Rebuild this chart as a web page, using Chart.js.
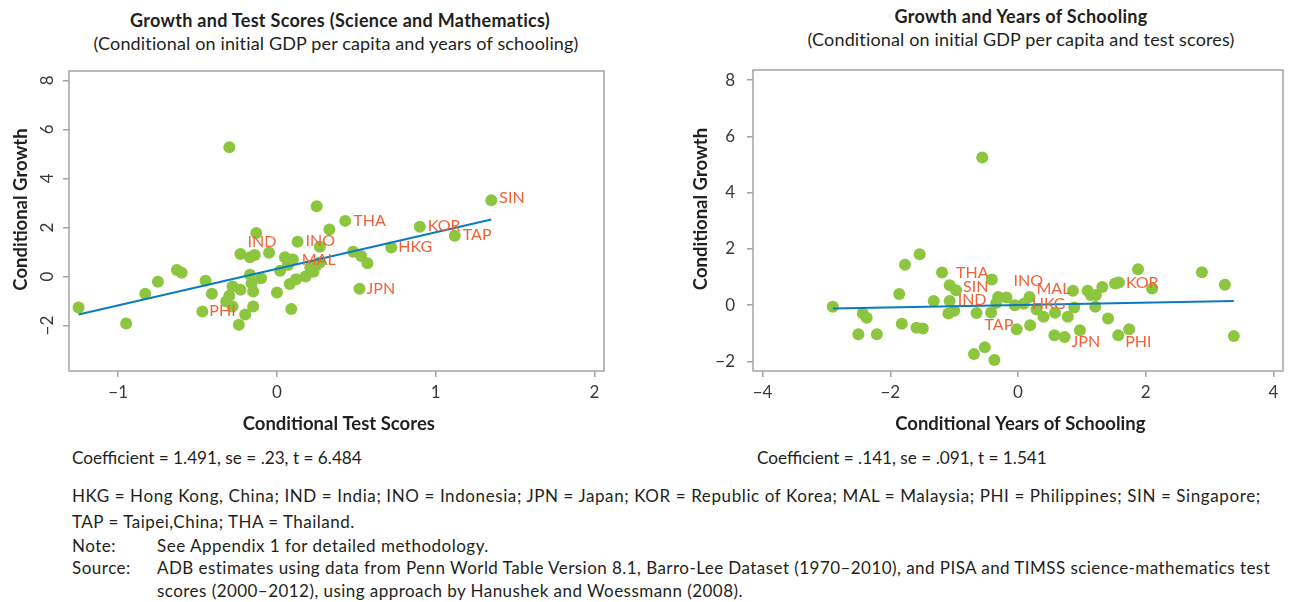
<!DOCTYPE html>
<html>
<head>
<meta charset="utf-8">
<script src="https://cdn.jsdelivr.net/npm/chart.js@4.4.1/dist/chart.umd.min.js"></script>
<style>
  html, body { margin: 0; padding: 0; background: #fff; }
  body { width: 1289px; height: 602px; position: relative; overflow: hidden; font-family: Lato, "Open Sans", sans-serif; color: #231f20; }
  canvas { position: absolute; top: 0; }
  #c1 { left: 0; }
  #c2 { left: 680px; }
  .t { position: absolute; white-space: nowrap; line-height: 20px; }
  .title { font-weight: bold; font-size: 18px; letter-spacing: 0.3px; transform: translateX(-50%); }
  .sub { font-size: 18px; letter-spacing: 0.15px; transform: translateX(-50%); }
  .coef { font-size: 17.2px; }
  .note { font-size: 17px; letter-spacing: 0.5px; }
</style>
</head>
<body>
<div class="t title" style="left:340px; top:10px;">Growth and Test Scores (Science and Mathematics)</div>
<div class="t sub" style="left:336px; top:33px;">(Conditional on initial GDP per capita and years of schooling)</div>
<div class="t title" style="left:1021px; top:6px;">Growth and Years of Schooling</div>
<div class="t sub" style="left:1021px; top:29px;">(Conditional on initial GDP per capita and test scores)</div>

<canvas id="c1" width="640" height="440"></canvas>
<canvas id="c2" width="609" height="440"></canvas>

<div class="t coef" style="left:72px; top:448px;">Coefficient = 1.491, se = .23, t = 6.484</div>
<div class="t coef" style="left:757px; top:448px;">Coefficient = .141, se = .091, t = 1.541</div>

<div class="t note" style="left:72px; top:486px; letter-spacing:0.6px;">HKG = Hong Kong, China; IND = India; INO = Indonesia; JPN = Japan; KOR = Republic of Korea; MAL = Malaysia; PHI = Philippines; SIN = Singapore;</div>
<div class="t note" style="left:72px; top:512px;">TAP = Taipei,China; THA = Thailand.</div>
<div class="t note" style="left:72px; top:536px;">Note:</div>
<div class="t note" style="left:157px; top:536px;">See Appendix 1 for detailed methodology.</div>
<div class="t note" style="left:72px; top:558px;">Source:</div>
<div class="t note" style="left:157px; top:558px; letter-spacing:0.45px;">ADB estimates using data from Penn World Table Version 8.1, Barro-Lee Dataset (1970–2010), and PISA and TIMSS science-mathematics test</div>
<div class="t note" style="left:157px; top:581px; letter-spacing:0.45px;">scores (2000–2012), using approach by Hanushek and Woessmann (2008).</div>

<script>
// ---------- DATA ----------
// Left panel: conditional test scores vs conditional growth
const testScoreX = [-1.25,-0.95,-0.83,-0.75,-0.63,-0.60,-0.30,-0.45,-0.41,-0.47,
  -0.28,-0.23,-0.30,-0.32,-0.28,-0.20,-0.24,-0.15,-0.23,
  -0.17,-0.14,-0.13,-0.05,-0.17,-0.16,-0.15,-0.10,0.00,0.02,0.05,0.10,
  0.07,0.09,0.08,0.12,0.13,
  0.25,0.33,0.27,0.18,0.23,0.21,0.25,0.27,0.43,
  0.48,0.53,0.57,0.52,0.72,0.90,1.12,1.35];
const testGrowthY = [-1.26,-1.91,-0.70,-0.21,0.27,0.16,5.27,-0.17,-0.70,-1.42,
  -0.41,-0.54,-0.78,-1.02,-1.22,-1.55,-1.96,-1.22,0.92,
  0.79,0.88,1.78,0.97,0.07,-0.27,-0.61,-0.07,-0.65,0.24,0.79,0.70,
  0.47,-1.32,-0.30,-0.11,1.42,
  2.87,1.92,1.22,0.00,0.20,0.38,0.47,0.57,2.27,
  1.01,0.84,0.54,-0.50,1.18,2.03,1.66,3.11];
const testCodes = ["","","","","","","","","","PHI",
  "","","","","","","","","IND",
  "","","","","","","","","","","","MAL",
  "","","","","INO",
  "","","","","","","","","THA",
  "","","","JPN","HKG","KOR","TAP","SIN"];
const testFitX = [-1.25, 1.35];
const testFitY = [-1.55, 2.33];

// Right panel: conditional years of schooling vs conditional growth
const schoolX = [-2.90,-2.43,-2.37,-2.50,-2.21,-1.86,-1.77,-1.54,-1.82,-1.59,-1.49,-1.19,
  -1.32,-1.07,-0.97,-1.07,
  -1.09,-1.00,-0.65,
  -0.56,-0.69,-0.52,-0.37,-0.41,-0.31,-0.18,
  -0.34,-0.05,0.09,0.18,
  0.29,0.40,0.58,0.78,0.88,0.86,1.09,1.14,1.22,1.32,1.21,1.41,0.19,-0.02,0.57,0.73,
  0.97,1.52,1.58,
  1.88,2.10,2.88,3.24,3.38,1.57,
  1.74,-0.42];
const schoolGrowthY = [-0.06,-0.30,-0.45,-1.03,-1.03,0.40,1.44,1.81,-0.66,-0.80,-0.83,1.16,
  0.15,0.71,0.53,0.15,
  -0.30,-0.20,-0.28,
  5.25,-1.74,-1.50,-1.95,0.91,0.29,0.27,
  0.08,0.00,0.05,0.29,
  -0.15,-0.41,-0.27,-0.41,-0.08,0.51,0.51,0.36,0.36,0.65,-0.06,-0.47,-0.71,-0.86,-1.07,-1.13,
  -0.89,0.77,0.81,
  1.28,0.59,1.17,0.73,-1.10,-1.07,
  -0.86,-0.26];
const schoolCodes = ["","","","","","","","","","","","THA",
  "","","SIN","IND",
  "","","TAP",
  "","","","","","","INO",
  "","","HKG","MAL",
  "","","","","","","","","","","","","","","","JPN",
  "","","KOR",
  "","","","","","PHI",
  "",""];
const schoolFitX = [-2.90, 3.38];
const schoolFitY = [-0.12, 0.15];

const yTicks = [-2, 0, 2, 4, 6, 8];
const testTicks = [-1, 0, 1, 2];
const schoolTicks = [-4, -2, 0, 2, 4];

// ---------- STYLE ----------
const GREEN = '#8cc63f', BLUE = '#0b7bbf', ORANGE = '#f0623a', AXIS = '#a3a3a3', TXT = '#3a3a3a';
const FONT = 'Lato, "Open Sans", sans-serif';
const labelOffsets = {
  c1: { SIN:[8,-2], THA:[8,0], KOR:[8,-1], TAP:[8,-1], HKG:[7,-1], JPN:[7,0], MAL:[9,0], INO:[8,-1], IND:[7,-12], PHI:[7,-1] },
  c2: { THA:[14,0], SIN:[7,-3], IND:[8,-1], INO:[7,-17], MAL:[7,-8], HKG:[8,0], TAP:[8,12], JPN:[7,5], PHI:[7,7], KOR:[7,0] }
};
// leading spaces nudge the axis titles a little off centre, as in the original
const Y_TITLE = '\u2002\u2002 Conditional Growth';
const X_PAD = '\u2009\u2009';

const fmt = v => (v < 0 ? '\u2212' + Math.abs(v) : String(v));

const boxPlugin = {
  id: 'box',
  beforeDatasetsDraw(chart) {
    const a = chart.chartArea, ctx = chart.ctx;
    ctx.save();
    ctx.strokeStyle = AXIS;
    ctx.lineWidth = 1.5;
    ctx.strokeRect(a.left, a.top, a.right - a.left, a.bottom - a.top);
    ctx.restore();
  }
};

const labelPlugin = {
  id: 'pointLabels',
  afterDatasetsDraw(chart) {
    const ds = chart.data.datasets[0];
    const codes = ds.codes;
    const offs = labelOffsets[chart.canvas.id];
    const meta = chart.getDatasetMeta(0);
    const ctx = chart.ctx;
    ctx.save();
    ctx.font = '16px ' + FONT;
    ctx.fillStyle = ORANGE;
    ctx.textAlign = 'left';
    ctx.textBaseline = 'middle';
    meta.data.forEach((el, i) => {
      const c = codes[i];
      if (!c) return;
      const o = offs[c] || [8, 0];
      ctx.fillText(c, el.x + o[0], el.y + o[1]);
    });
    ctx.restore();
  }
};

function makeChart(id, xs, ys, codes, fx, fy, xTickVals, xr, yr, xTitle, yRot, yAxisW, padTop, padRight, yTitlePad, yTickPad) {
  const pts = xs.map((x, i) => ({ x: x, y: ys[i] }));
  const fit = fx.map((x, i) => ({ x: x, y: fy[i] }));
  return new Chart(document.getElementById(id), {
    type: 'scatter',
    data: {
      datasets: [
        { type: 'scatter', data: pts, codes: codes, backgroundColor: GREEN, borderWidth: 0, pointRadius: 6, pointHoverRadius: 6, order: 2 },
        { type: 'line', data: fit, borderColor: BLUE, borderWidth: 2, pointRadius: 0, fill: false, order: 1 }
      ]
    },
    options: {
      responsive: false,
      animation: false,
      devicePixelRatio: 1,
      events: [],
      layout: { padding: { top: padTop, right: padRight, left: 0, bottom: 0 } },
      plugins: { legend: { display: false }, tooltip: { enabled: false } },
      scales: {
        x: {
          type: 'linear', min: xr[0], max: xr[1],
          afterBuildTicks: s => { s.ticks = xTickVals.map(v => ({ value: v })); },
          afterFit: s => { s.height = 69; },
          grid: { display: true, drawOnChartArea: false, drawTicks: true, tickLength: 6, color: AXIS, lineWidth: 1.5 },
          border: { display: false },
          ticks: { color: TXT, font: { family: FONT, size: 17 }, padding: 5, maxRotation: 0, callback: v => fmt(v) },
          title: { display: true, text: X_PAD + xTitle, color: '#231f20', font: { family: FONT, size: 18.5, weight: 'bold' }, padding: { top: 0, bottom: 5 } }
        },
        y: {
          type: 'linear', min: yr[0], max: yr[1],
          afterBuildTicks: s => { s.ticks = yTicks.map(v => ({ value: v })); },
          afterFit: s => { s.width = yAxisW; },
          grid: { display: true, drawOnChartArea: false, drawTicks: true, tickLength: 6, color: AXIS, lineWidth: 1.5 },
          border: { display: false },
          ticks: yRot
            ? { color: TXT, font: { family: FONT, size: 17 }, minRotation: 90, maxRotation: 90, crossAlign: 'center', padding: yTickPad, callback: v => fmt(v) }
            : { color: TXT, font: { family: FONT, size: 17 }, padding: yTickPad, callback: v => fmt(v) },
          title: { display: true, text: Y_TITLE, color: '#231f20', font: { family: FONT, size: 18.5, weight: 'bold' }, padding: { top: yTitlePad, bottom: 0 } }
        }
      }
    },
    plugins: [boxPlugin, labelPlugin]
  });
}

makeChart('c1', testScoreX, testGrowthY, testCodes, testFitX, testFitY, testTicks,
  [-1.31, 2.06], [-3.85, 8.38], 'Conditional Test Scores', true, 69, 71, 36, 10, 6);
makeChart('c2', schoolX, schoolGrowthY, schoolCodes, schoolFitX, schoolFitY, schoolTicks,
  [-4.15, 4.15], [-2.34, 8.36], 'Conditional Years of Schooling', false, 73, 70, 1, 10, 12);
</script>
</body>
</html>
